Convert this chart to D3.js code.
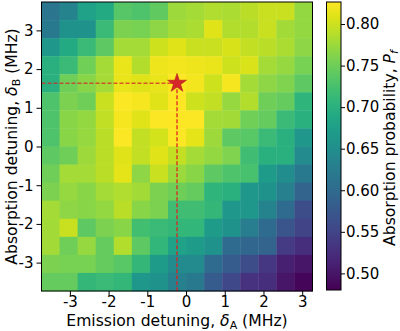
<!DOCTYPE html>
<html>
<head>
<meta charset="utf-8">
<script src="https://cdn.jsdelivr.net/npm/d3@7"></script>
<style>
  html, body { margin: 0; padding: 0; background: #fff; }
  svg { display: block; font-family: "DejaVu Sans", sans-serif; }
</style>
</head>
<body>
<svg id="chart" width="400" height="331"></svg>
<script>
// Emission detuning (x) cell centers, MHz
const xCenters = [-3.5, -3.033, -2.567, -2.1, -1.633, -1.167, -0.7, -0.233, 0.233, 0.7, 1.167, 1.633, 2.1, 2.567, 3.033];
// Absorption detuning (y) cell centers, MHz (top to bottom)
const yCenters = [3.5, 3.033, 2.567, 2.1, 1.633, 1.167, 0.7, 0.233, -0.233, -0.7, -1.167, -1.633, -2.1, -2.567, -3.033, -3.5];
// Absorption probability rows (top to bottom), columns left to right
const row00 = [0.615, 0.635, 0.68, 0.69, 0.735, 0.73, 0.742, 0.776, 0.78, 0.785, 0.783, 0.79, 0.797, 0.797, 0.77];
const row01 = [0.62, 0.655, 0.655, 0.715, 0.758, 0.755, 0.768, 0.78, 0.783, 0.81, 0.787, 0.787, 0.797, 0.778, 0.77];
const row02 = [0.665, 0.69, 0.715, 0.74, 0.78, 0.78, 0.80, 0.81, 0.797, 0.797, 0.806, 0.795, 0.79, 0.783, 0.768];
const row03 = [0.70, 0.715, 0.752, 0.78, 0.815, 0.787, 0.818, 0.82, 0.818, 0.815, 0.80, 0.807, 0.78, 0.772, 0.755];
const row04 = [0.70, 0.75, 0.765, 0.78, 0.815, 0.81, 0.815, 0.826, 0.82, 0.80, 0.822, 0.78, 0.768, 0.76, 0.74];
const row05 = [0.73, 0.758, 0.75, 0.797, 0.825, 0.822, 0.81, 0.828, 0.80, 0.795, 0.772, 0.787, 0.75, 0.745, 0.705];
const row06 = [0.73, 0.765, 0.77, 0.793, 0.822, 0.81, 0.825, 0.828, 0.825, 0.78, 0.778, 0.752, 0.745, 0.715, 0.70];
const row07 = [0.73, 0.765, 0.772, 0.79, 0.825, 0.795, 0.803, 0.825, 0.812, 0.776, 0.74, 0.737, 0.715, 0.70, 0.665];
const row08 = [0.74, 0.75, 0.776, 0.79, 0.81, 0.795, 0.81, 0.795, 0.78, 0.77, 0.76, 0.72, 0.70, 0.70, 0.645];
const row09 = [0.75, 0.78, 0.78, 0.79, 0.812, 0.768, 0.797, 0.775, 0.765, 0.74, 0.73, 0.725, 0.67, 0.65, 0.62];
const row10 = [0.758, 0.772, 0.765, 0.78, 0.785, 0.778, 0.758, 0.75, 0.745, 0.705, 0.70, 0.665, 0.655, 0.63, 0.59];
const row11 = [0.78, 0.768, 0.765, 0.77, 0.79, 0.765, 0.758, 0.72, 0.72, 0.71, 0.665, 0.665, 0.635, 0.60, 0.56];
const row12 = [0.778, 0.797, 0.74, 0.758, 0.765, 0.722, 0.715, 0.71, 0.708, 0.67, 0.655, 0.625, 0.60, 0.57, 0.55];
const row13 = [0.778, 0.75, 0.772, 0.745, 0.787, 0.74, 0.708, 0.68, 0.67, 0.655, 0.60, 0.595, 0.59, 0.54, 0.525];
const row14 = [0.758, 0.755, 0.755, 0.745, 0.737, 0.71, 0.67, 0.645, 0.645, 0.60, 0.58, 0.56, 0.535, 0.51, 0.50];
const row15 = [0.745, 0.745, 0.71, 0.715, 0.71, 0.665, 0.655, 0.63, 0.62, 0.58, 0.555, 0.53, 0.525, 0.50, 0.485];
const probRows = [row00, row01, row02, row03, row04, row05, row06, row07, row08, row09, row10, row11, row12, row13, row14, row15];
// Optimum marker
const starPoint = [-0.233, 1.633];
// Tick labels
const axisTicks = [-3, -2, -1, 0, 1, 2, 3];
const cbarTicks = [0.50, 0.55, 0.60, 0.65, 0.70, 0.75, 0.80];
const colorDomain = [0.480, 0.8265];

const svg = d3.select("#chart");
const plot = { left: 41.5, right: 312.5, top: 2, bottom: 291 };
const cellW = 0.4667;
const tickFont = 15, labelFont = 15.6, subFont = 11;

const x = d3.scaleLinear().domain([xCenters[0] - cellW / 2, xCenters[xCenters.length - 1] + cellW / 2]).range([plot.left, plot.right]);
const y = d3.scaleLinear().domain([yCenters[yCenters.length - 1] - cellW / 2, yCenters[0] + cellW / 2]).range([plot.bottom, plot.top]);
const color = d3.scaleSequential(d3.interpolateViridis).domain(colorDomain).clamp(true);

const cells = [];
probRows.forEach((row, j) => row.forEach((v, i) => cells.push({ x: xCenters[i], y: yCenters[j], v })));

svg.append("g").selectAll("rect").data(cells).join("rect")
  .attr("x", d => x(d.x - cellW / 2))
  .attr("y", d => y(d.y + cellW / 2))
  .attr("width", d => x(d.x + cellW / 2) - x(d.x - cellW / 2) + 0.4)
  .attr("height", d => y(d.y - cellW / 2) - y(d.y + cellW / 2) + 0.4)
  .attr("fill", d => color(d.v));

// dashed guide lines
svg.append("line")
  .attr("x1", plot.left).attr("x2", x(starPoint[0]))
  .attr("y1", y(starPoint[1])).attr("y2", y(starPoint[1]))
  .attr("stroke", "#d62728").attr("stroke-opacity", 0.75).attr("stroke-width", 1.4)
  .attr("stroke-dasharray", "4,2");
svg.append("line")
  .attr("x1", x(starPoint[0])).attr("x2", x(starPoint[0]))
  .attr("y1", y(starPoint[1])).attr("y2", plot.bottom)
  .attr("stroke", "#e0201f").attr("stroke-opacity", 0.9).attr("stroke-width", 1.4)
  .attr("stroke-dasharray", "4,2");
svg.append("path")
  .attr("d", d3.symbol(d3.symbolStar, 110)())
  .attr("transform", `translate(${x(starPoint[0])},${y(starPoint[1])})`)
  .attr("fill", "#d62728").attr("stroke", "#b01c1c").attr("stroke-width", 0.6);

// frame
svg.append("rect").attr("x", plot.left).attr("y", plot.top)
  .attr("width", plot.right - plot.left).attr("height", plot.bottom - plot.top)
  .attr("fill", "none").attr("stroke", "#000").attr("stroke-width", 1);

const fmtInt = d => String(d);
const xAxis = svg.append("g").attr("transform", `translate(0,${plot.bottom})`)
  .call(d3.axisBottom(x).tickValues(axisTicks).tickSize(5).tickPadding(0.5).tickFormat(fmtInt));
const yAxis = svg.append("g").attr("transform", `translate(${plot.left},0)`)
  .call(d3.axisLeft(y).tickValues(axisTicks).tickSize(5).tickPadding(3).tickFormat(fmtInt));
[xAxis, yAxis].forEach(g => {
  g.select(".domain").remove();
  g.selectAll("text").attr("font-size", tickFont).attr("font-family", "DejaVu Sans").attr("fill", "#000");
  g.selectAll("line").attr("stroke", "#000");
});

// axis labels
svg.append("text").attr("x", (plot.left + plot.right) / 2).attr("y", 326)
  .attr("text-anchor", "middle").attr("font-size", labelFont).attr("fill", "#000")
  .html(`Emission detuning, <tspan font-style="italic">δ</tspan><tspan font-size="${subFont}" dy="3">A</tspan><tspan dy="-3"> (MHz)</tspan>`);
svg.append("text")
  .attr("transform", `translate(17,${(plot.top + plot.bottom) / 2}) rotate(-90)`)
  .attr("text-anchor", "middle").attr("font-size", labelFont).attr("fill", "#000")
  .html(`Absorption detuning, <tspan font-style="italic">δ</tspan><tspan font-size="${subFont}" dy="3">B</tspan><tspan dy="-3"> (MHz)</tspan>`);

// colorbar
const cb = { left: 326.5, right: 341, top: 2, bottom: 290 };
const cy = d3.scaleLinear().domain(colorDomain).range([cb.bottom, cb.top]);
const defs = svg.append("defs");
const grad = defs.append("linearGradient").attr("id", "cbgrad")
  .attr("x1", 0).attr("y1", 1).attr("x2", 0).attr("y2", 0);
d3.range(0, 1.0001, 0.05).forEach(t => grad.append("stop").attr("offset", t).attr("stop-color", d3.interpolateViridis(t)));
svg.append("rect").attr("x", cb.left).attr("y", cb.top)
  .attr("width", cb.right - cb.left).attr("height", cb.bottom - cb.top)
  .attr("fill", "url(#cbgrad)").attr("stroke", "#000").attr("stroke-width", 1);
const cAxis = svg.append("g").attr("transform", `translate(${cb.right},0)`)
  .call(d3.axisRight(cy).tickValues(cbarTicks).tickSize(4).tickPadding(1).tickFormat(d3.format(".2f")));
cAxis.select(".domain").remove();
cAxis.selectAll("text").attr("font-size", tickFont).attr("font-family", "DejaVu Sans").attr("fill", "#000");
cAxis.selectAll("line").attr("stroke", "#000");
svg.append("text")
  .attr("transform", `translate(395,${(cb.top + cb.bottom) / 2 + 2}) rotate(-90)`)
  .attr("text-anchor", "middle").attr("font-size", labelFont).attr("fill", "#000")
  .html(`Absorption probability, <tspan font-style="italic">P</tspan><tspan font-style="italic" font-size="${subFont}" dy="3">f</tspan>`);
</script>
</body>
</html>
